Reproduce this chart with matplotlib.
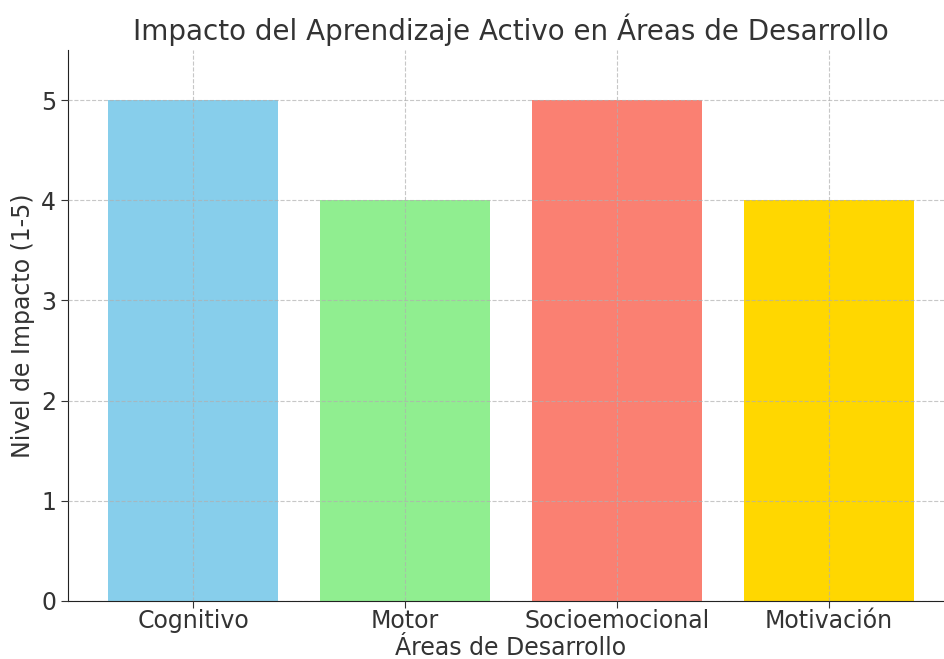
import matplotlib
matplotlib.use("Agg")
import matplotlib.pyplot as plt

categories = ["Cognitivo", "Motor", "Socioemocional", "Motivación"]
values = [5, 4, 5, 4]
colors = ["#87CEEB", "#90EE90", "#FA8072", "#FFD700"]
title = "Impacto del Aprendizaje Activo en Áreas de Desarrollo"
xlabel = "Áreas de Desarrollo"
ylabel = "Nivel de Impacto (1-5)"

txt = "#333333"
fig = plt.figure(figsize=(9.44, 6.59), dpi=100)
ax = fig.add_axes([68/944, 1-601/659, (954-68)/944, (601-50)/659])
ax.bar(categories, values, color=colors, width=0.8, zorder=1)
ax.set_ylim(0, 5.5)
ax.set_yticks([0, 1, 2, 3, 4, 5])
ax.grid(True, linestyle="--", color="#b0b0b0", alpha=0.7, linewidth=0.8, zorder=2)
ax.set_axisbelow(False)
for s in ["top", "right"]:
    ax.spines[s].set_visible(False)
for s in ["left", "bottom"]:
    ax.spines[s].set_color("#222222")
ax.set_title(title, fontsize=20, color=txt, pad=7)
ax.set_xlabel(xlabel, fontsize=17, color=txt, labelpad=2)
ax.set_ylabel(ylabel, fontsize=17, color=txt, labelpad=4)
ax.tick_params(axis="both", labelsize=17, colors=txt, length=5)
ax.tick_params(axis="x", pad=1)
fig.savefig("out.png", dpi=100)
